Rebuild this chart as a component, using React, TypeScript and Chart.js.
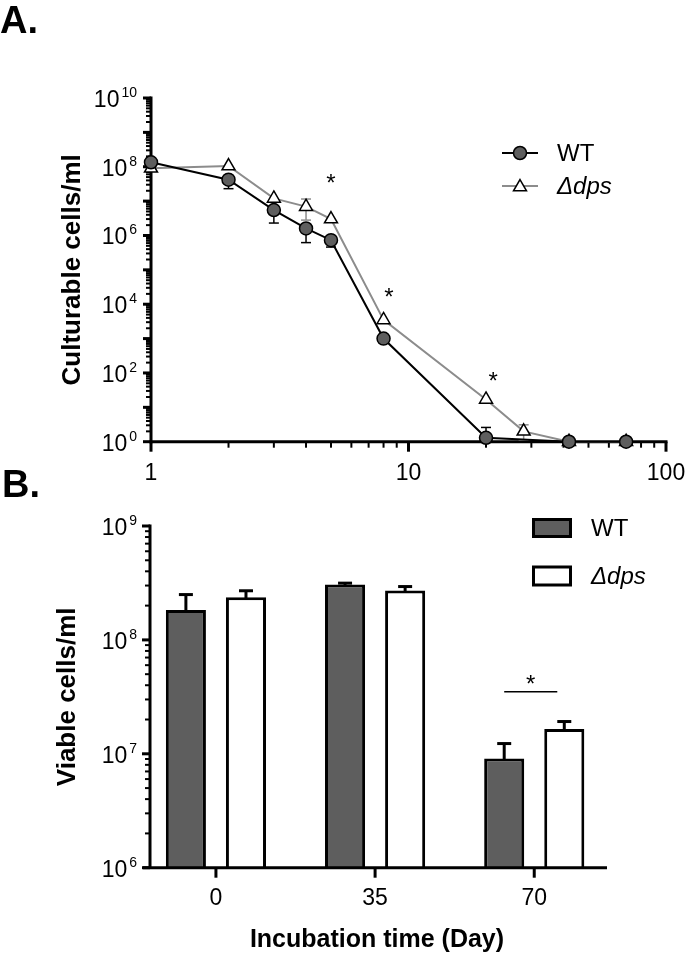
import React, { useEffect, useRef } from "react";
import { Chart, registerables } from "chart.js";
Chart.register(...registerables);

const FONT = '"Liberation Sans", Arial, Helvetica, sans-serif';

// ---------- Panel A data ----------
const daysWT_A = [1, 2, 3, 4, 5, 8, 20, 42, 70];
const cellsWT_A = [1.35e8, 4.2e7, 5.5e6, 1.6e6, 7.3e5, 1.0e3, 1.3, 1, 1];
const errLoWT_A = [null, 2.3e7, 2.3e6, 6.2e5, 4.6e5, null, null, null, null];
const errHiWT_A = [null, null, null, null, null, null, 2.6, null, null];
const daysDps_A = [1, 2, 3, 4, 5, 8, 20, 28, 42, 70];
const cellsDps_A = [9e7, 1.05e8, 1.2e7, 6.9e6, 3.0e6, 3.5e3, 17, 2, 1, 1];
const errLoDps_A = [null, null, null, 2.8e6, null, null, null, 1.1, null, null];
const errHiDps_A = [null, null, null, 1.15e7, null, null, null, 3.1, null, null];
const xTicksA = [1, 10, 100];
const yExpA = [0, 2, 4, 6, 8, 10];
const starDaysA = [5, 8.4, 21.3];
const starCellsA = [4.8e7, 2.3e4, 82];

// ---------- Panel B data ----------
const daysB = [0, 35, 70];
const viableWT_B = [1.83e8, 3.07e8, 9.1e6];
const errWT_B = [2.5e8, 3.15e8, 1.23e7];
const viableDps_B = [2.37e8, 2.72e8, 1.65e7];
const errDps_B = [2.7e8, 2.94e8, 1.92e7];
const yExpB = [6, 7, 8, 9];
const sigIndexB = 2;
const sigLineCellsB = 3.5e7;
const sigStarCellsB = 4.6e7;

const WT_FILL = "#5e5e5e";
const DPS_LINE = "#8c8c8c";

function line(ctx: CanvasRenderingContext2D, x1: number, y1: number, x2: number, y2: number, w: number, color = "#000") {
  ctx.beginPath();
  ctx.lineWidth = w;
  ctx.strokeStyle = color;
  ctx.moveTo(x1, y1);
  ctx.lineTo(x2, y2);
  ctx.stroke();
}

function drawPow(ctx: CanvasRenderingContext2D, exp: number, rightX: number, tickY: number) {
  ctx.textAlign = "left";
  ctx.textBaseline = "alphabetic";
  ctx.fillStyle = "#000";
  ctx.font = `14px ${FONT}`;
  const we = ctx.measureText(String(exp)).width;
  ctx.font = `23px ${FONT}`;
  const wb = ctx.measureText("10").width;
  ctx.fillText("10", rightX - we - 2 - wb, tickY + 9);
  ctx.font = `14px ${FONT}`;
  ctx.fillText(String(exp), rightX - we, tickY - 1);
}

function drawLogYTicks(ctx: CanvasRenderingContext2D, yScale: any, x: number, eMin: number, eMax: number) {
  for (let e = eMin; e <= eMax; e++) {
    const py = yScale.getPixelForValue(Math.pow(10, e));
    line(ctx, x, py, x - 8, py, 3);
    if (e < eMax) {
      for (let m = 2; m <= 9; m++) {
        const p = yScale.getPixelForValue(m * Math.pow(10, e));
        line(ctx, x, p, x - 5, p, 2);
      }
    }
  }
}

function drawTriangle(ctx: CanvasRenderingContext2D, x: number, y: number, r: number) {
  ctx.beginPath();
  let rad = 0;
  ctx.moveTo(x + Math.sin(rad) * r, y - Math.cos(rad) * r);
  rad += (2 * Math.PI) / 3;
  ctx.lineTo(x + Math.sin(rad) * r, y - Math.cos(rad) * r);
  rad += (2 * Math.PI) / 3;
  ctx.lineTo(x + Math.sin(rad) * r, y - Math.cos(rad) * r);
  ctx.closePath();
  ctx.fillStyle = "#fff";
  ctx.fill();
  ctx.lineWidth = 1.5;
  ctx.strokeStyle = "#000";
  ctx.stroke();
}

const plugA = {
  id: "panelA",
  beforeDatasetsDraw(chart: any) {
    const { ctx, chartArea: ca, scales } = chart;
    const xs = scales.x;
    const ys = scales.y;
    ctx.save();
    line(ctx, ca.left, ca.top - 1.5, ca.left, ca.bottom + 1.5, 3);
    line(ctx, ca.left - 1.5, ca.bottom, ca.right + 1.5, ca.bottom, 3);
    drawLogYTicks(ctx, ys, ca.left, 0, 10);
    for (let e = 0; e <= 2; e++) {
      const px = xs.getPixelForValue(Math.pow(10, e));
      line(ctx, px, ca.bottom, px, ca.bottom + 10, 3);
      if (e < 2) {
        for (let m = 2; m <= 9; m++) {
          const p = xs.getPixelForValue(m * Math.pow(10, e));
          line(ctx, p, ca.bottom, p, ca.bottom + 6, 2);
        }
      }
    }
    const drawErr = (days: number[], vals: number[], lo: any[], hi: any[], color: string) => {
      days.forEach((d, i) => {
        const px = xs.getPixelForValue(d);
        const py = ys.getPixelForValue(vals[i]);
        [lo[i], hi[i]].forEach((v) => {
          if (v == null) return;
          const pe = ys.getPixelForValue(v);
          line(ctx, px, py, px, pe, 1.5, color);
          line(ctx, px - 5, pe, px + 5, pe, 1.5, color);
        });
      });
    };
    drawErr(daysDps_A, cellsDps_A, errLoDps_A, errHiDps_A, DPS_LINE);
    drawErr(daysWT_A, cellsWT_A, errLoWT_A, errHiWT_A, "#000");
    ctx.restore();
  },
  afterDraw(chart: any) {
    const { ctx, chartArea: ca, scales } = chart;
    const xs = scales.x;
    const ys = scales.y;
    ctx.save();
    ctx.fillStyle = "#000";
    yExpA.forEach((e) => drawPow(ctx, e, 137, ys.getPixelForValue(Math.pow(10, e))));
    ctx.font = `23px ${FONT}`;
    ctx.textAlign = "center";
    ctx.textBaseline = "alphabetic";
    xTicksA.forEach((t) => ctx.fillText(String(t), xs.getPixelForValue(t), ca.bottom + 38));
    ctx.save();
    ctx.translate(80, (ca.top + ca.bottom) / 2);
    ctx.rotate(-Math.PI / 2);
    ctx.font = `bold 26px ${FONT}`;
    ctx.textAlign = "center";
    ctx.fillText("Culturable cells/ml", 0, 0);
    ctx.restore();
    ctx.font = `bold 38px ${FONT}`;
    ctx.textAlign = "left";
    ctx.fillText("A.", 0, 33);
    ctx.font = `24px ${FONT}`;
    ctx.textAlign = "center";
    starDaysA.forEach((d, i) => {
      ctx.fillText("*", xs.getPixelForValue(d), ys.getPixelForValue(starCellsA[i]) + 13.5);
    });
    line(ctx, 502, 153, 538, 153, 2, "#000");
    ctx.beginPath();
    ctx.arc(520, 153, 6.5, 0, Math.PI * 2);
    ctx.fillStyle = WT_FILL;
    ctx.fill();
    ctx.lineWidth = 1.5;
    ctx.strokeStyle = "#000";
    ctx.stroke();
    line(ctx, 502, 186, 538, 186, 2, DPS_LINE);
    drawTriangle(ctx, 520, 187, 7.5);
    ctx.fillStyle = "#000";
    ctx.textAlign = "left";
    ctx.textBaseline = "middle";
    ctx.font = `24px ${FONT}`;
    ctx.fillText("WT", 557, 154);
    ctx.font = `italic 24px ${FONT}`;
    ctx.fillText("\u0394dps", 557, 187);
    ctx.restore();
  },
};

const plugB = {
  id: "panelB",
  beforeDatasetsDraw(chart: any) {
    const { ctx, scales } = chart;
    const ys = scales.y;
    ctx.save();
    [errWT_B, errDps_B].forEach((errs, di) => {
      const meta = chart.getDatasetMeta(di);
      meta.data.forEach((bar: any, i: number) => {
        const pe = ys.getPixelForValue(errs[i]);
        line(ctx, bar.x, bar.y + 2, bar.x, pe, 3);
        line(ctx, bar.x - 7, pe, bar.x + 7, pe, 3);
      });
    });
    ctx.restore();
  },
  afterDatasetsDraw(chart: any) {
    const { ctx, chartArea: ca, scales } = chart;
    const xs = scales.x;
    const ys = scales.y;
    ctx.save();
    line(ctx, ca.left, ca.top - 1.5, ca.left, ca.bottom, 3);
    line(ctx, ca.left - 7, ca.bottom, ca.right, ca.bottom, 3);
    drawLogYTicks(ctx, ys, ca.left, 6, 9);
    daysB.forEach((d) => {
      const px = xs.getPixelForValue(d);
      line(ctx, px, ca.bottom, px, ca.bottom + 10, 3);
    });
    ctx.restore();
  },
  afterDraw(chart: any) {
    const { ctx, chartArea: ca, scales } = chart;
    const xs = scales.x;
    const ys = scales.y;
    ctx.save();
    ctx.fillStyle = "#000";
    yExpB.forEach((e) => drawPow(ctx, e, 137, ys.getPixelForValue(Math.pow(10, e))));
    ctx.font = `23px ${FONT}`;
    ctx.textAlign = "center";
    ctx.textBaseline = "alphabetic";
    daysB.forEach((d) => ctx.fillText(String(d), xs.getPixelForValue(d), ca.bottom + 37));
    ctx.font = `bold 25px ${FONT}`;
    ctx.fillText("Incubation time (Day)", 377, 947);
    ctx.save();
    ctx.translate(75, (ca.top + ca.bottom) / 2);
    ctx.rotate(-Math.PI / 2);
    ctx.font = `bold 26px ${FONT}`;
    ctx.textAlign = "center";
    ctx.fillText("Viable cells/ml", 0, 0);
    ctx.restore();
    ctx.font = `bold 38px ${FONT}`;
    ctx.textAlign = "left";
    ctx.fillText("B.", 2, 497);
    const b1 = chart.getDatasetMeta(0).data[sigIndexB];
    const b2 = chart.getDatasetMeta(1).data[sigIndexB];
    const ly = ys.getPixelForValue(sigLineCellsB);
    line(ctx, b1.x, ly, b2.x - 7, ly, 1.5);
    ctx.font = `24px ${FONT}`;
    ctx.textAlign = "center";
    ctx.fillText("*", (b1.x + b2.x - 7) / 2, ys.getPixelForValue(sigStarCellsB) + 13.5);
    ctx.lineWidth = 3;
    ctx.strokeStyle = "#000";
    ctx.fillStyle = WT_FILL;
    ctx.fillRect(533.5, 519.5, 37, 17);
    ctx.strokeRect(533.5, 519.5, 37, 17);
    ctx.fillStyle = "#fff";
    ctx.fillRect(533.5, 567, 37, 18);
    ctx.strokeRect(533.5, 567, 37, 18);
    ctx.fillStyle = "#000";
    ctx.textAlign = "left";
    ctx.textBaseline = "middle";
    ctx.font = `24px ${FONT}`;
    ctx.fillText("WT", 591, 529);
    ctx.font = `italic 24px ${FONT}`;
    ctx.fillText("\u0394dps", 591, 577);
    ctx.restore();
  },
};

export default function App() {
  const refA = useRef<HTMLCanvasElement>(null);
  const refB = useRef<HTMLCanvasElement>(null);

  useEffect(() => {
    const chartA = new Chart(refA.current as HTMLCanvasElement, {
      type: "line",
      data: {
        datasets: [
          {
            label: "WT",
            data: daysWT_A.map((d, i) => ({ x: d, y: cellsWT_A[i] })),
            borderColor: "#000",
            borderWidth: 2,
            pointStyle: "circle",
            pointRadius: 6.5,
            pointBackgroundColor: WT_FILL,
            pointBorderColor: "#000",
            pointBorderWidth: 1.5,
            tension: 0,
            clip: false,
          } as any,
          {
            label: "\u0394dps",
            data: daysDps_A.map((d, i) => ({ x: d, y: cellsDps_A[i] })),
            borderColor: DPS_LINE,
            borderWidth: 2,
            pointStyle: "triangle",
            pointRadius: 7.5,
            pointBackgroundColor: "#fff",
            pointBorderColor: "#000",
            pointBorderWidth: 1.5,
            tension: 0,
            clip: false,
          } as any,
        ],
      },
      options: {
        responsive: false,
        animation: false,
        events: [],
        layout: { padding: { left: 151, right: 20, top: 98, bottom: 957 - 441.7 } },
        scales: {
          x: { type: "logarithmic", min: 1, max: 100, display: false },
          y: { type: "logarithmic", min: 1, max: 1e10, display: false },
        },
        plugins: { legend: { display: false }, tooltip: { enabled: false } },
      },
      plugins: [plugA],
    });

    const chartB = new Chart(refB.current as HTMLCanvasElement, {
      type: "bar",
      data: {
        datasets: [
          {
            label: "WT",
            data: daysB.map((d, i) => ({ x: d, y: viableWT_B[i] })),
            backgroundColor: WT_FILL,
            borderColor: "#000",
            borderWidth: 3,
            categoryPercentage: 0.755,
            barPercentage: 0.667,
          } as any,
          {
            label: "\u0394dps",
            data: daysB.map((d, i) => ({ x: d, y: viableDps_B[i] })),
            backgroundColor: "#fff",
            borderColor: "#000",
            borderWidth: 3,
            categoryPercentage: 0.755,
            barPercentage: 0.667,
          } as any,
        ],
      },
      options: {
        responsive: false,
        animation: false,
        events: [],
        layout: { padding: { left: 150, right: 79, top: 526, bottom: 957 - 867.7 } },
        scales: {
          x: {
            type: "linear",
            min: -14.5,
            max: 86,
            offset: false,
            display: false,
            afterBuildTicks: (scale: any) => {
              scale.ticks = daysB.map((v) => ({ value: v }));
            },
          },
          y: { type: "logarithmic", min: 1e6, max: 1e9, display: false },
        },
        plugins: { legend: { display: false }, tooltip: { enabled: false } },
      },
      plugins: [plugB],
    });

    return () => {
      chartA.destroy();
      chartB.destroy();
    };
  }, []);

  const cStyle: React.CSSProperties = { position: "absolute", left: 0, top: 0, width: 686, height: 957 };
  return (
    <div style={{ position: "absolute", left: 0, top: 0, width: 686, height: 957, background: "#fff" }}>
      <canvas ref={refA} width={686} height={957} style={cStyle} />
      <canvas ref={refB} width={686} height={957} style={cStyle} />
    </div>
  );
}
